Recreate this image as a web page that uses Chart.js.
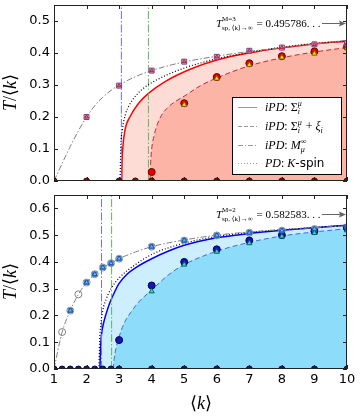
<!DOCTYPE html>
<html>
<head>
<meta charset="utf-8">
<script src="https://cdn.jsdelivr.net/npm/chart.js@4.4.0/dist/chart.umd.min.js"></script>
<style>
  body { margin: 0; background: #fff; }
  canvas { position: absolute; left: 0; }
  #top { top: 0; }
  #bot { top: 190px; }
</style>
</head>
<body>
<canvas id="top" width="361" height="190"></canvas>
<canvas id="bot" width="361" height="226"></canvas>
<script>
// ---- data, upper panel (M = 3) ----
const kMfTop = [1, 1.25, 1.5, 1.75, 2, 2.25, 2.5, 2.75, 3, 3.5, 4, 4.5, 5, 6, 7, 8, 9, 10];
const tMfTop = [0, 0.055, 0.108, 0.157, 0.2, 0.235, 0.262, 0.283, 0.3, 0.326, 0.345, 0.36, 0.372, 0.39, 0.405, 0.417, 0.428, 0.44];
const kSigTop = [3.08, 3.09, 3.11, 3.18, 3.33, 3.6, 3.9, 4.4, 5.2, 6, 7, 8, 9, 10];
const tSigTop = [0, 0.06, 0.1, 0.16, 0.2, 0.243, 0.274, 0.31, 0.35, 0.378, 0.4, 0.416, 0.428, 0.437];
const kKsTop = [3.03, 3.05, 3.1, 3.2, 3.3, 3.5, 3.75, 4, 4.5, 5, 6, 7, 8, 9, 10];
const tKsTop = [0, 0.1, 0.16, 0.21, 0.235, 0.265, 0.29, 0.307, 0.333, 0.353, 0.382, 0.402, 0.418, 0.43, 0.438];
const kXiTop = [3.95, 3.97, 4.0, 4.07, 4.15, 4.3, 4.5, 4.75, 5, 5.5, 6, 7, 8, 9, 10];
const tXiTop = [0, 0.06, 0.1, 0.14, 0.17, 0.205, 0.23, 0.25, 0.265, 0.298, 0.322, 0.36, 0.385, 0.403, 0.417];
const kMarkTop = [2, 3, 4, 5, 6, 7, 8, 9, 10];
const tMarkTop = [0.2, 0.298, 0.345, 0.373, 0.388, 0.407, 0.417, 0.427, 0.43];
const kXiMarkTop = [4, 5, 6, 7, 8, 9, 10];
const tXiCircTop = [0.028, 0.243, 0.325, 0.368, 0.39, 0.405, 0.42];
const kXiTriTop = [5, 6, 7, 8, 9, 10];
const tXiTriTop = [0.238, 0.32, 0.363, 0.386, 0.398, 0.415];
const kZeroTop = [1, 2, 3, 3.5, 4, 5, 6, 7, 8, 9, 10];
const vlinesTop = [3.07, 3.9];

// ---- data, lower panel (M = 2) ----
const kMfBot = [1, 1.25, 1.5, 1.75, 2, 2.25, 2.5, 2.75, 3, 3.5, 4, 5, 6, 7, 8, 9, 10];
const tMfBot = [0, 0.138, 0.218, 0.279, 0.323, 0.354, 0.379, 0.395, 0.412, 0.437, 0.457, 0.482, 0.5, 0.512, 0.521, 0.528, 0.535];
const kSigBot = [2.41, 2.43, 2.46, 2.52, 2.6, 2.7, 2.85, 3, 3.25, 3.5, 4, 4.5, 5, 6, 7, 8, 9, 10];
const tSigBot = [0, 0.08, 0.13, 0.17, 0.206, 0.243, 0.285, 0.32, 0.355, 0.378, 0.412, 0.44, 0.462, 0.49, 0.506, 0.518, 0.528, 0.537];
const kKsBot = [2.38, 2.4, 2.44, 2.5, 2.6, 2.75, 3, 3.5, 4, 5, 6, 7, 8, 9, 10];
const tKsBot = [0, 0.1, 0.17, 0.22, 0.26, 0.3, 0.34, 0.39, 0.428, 0.47, 0.495, 0.51, 0.52, 0.529, 0.537];
const kXiBot = [2.82, 2.85, 2.9, 3, 3.15, 3.35, 3.6, 4, 4.5, 5, 6, 7, 8, 9, 10];
const tXiBot = [0, 0.04, 0.075, 0.12, 0.17, 0.21, 0.25, 0.295, 0.35, 0.39, 0.44, 0.473, 0.497, 0.512, 0.524];
const kMarkBot = [1.5, 2, 2.25, 2.5, 2.75, 3, 4, 5, 6, 7, 8, 9, 10];
const tMarkBot = [0.218, 0.323, 0.354, 0.379, 0.395, 0.412, 0.457, 0.48, 0.499, 0.509, 0.517, 0.523, 0.53];
const kCircBot = [1.25, 1.75];
const tCircBot = [0.138, 0.279];
const kXiCircBot = [3, 4, 5, 6, 7, 8, 9, 10];
const tXiCircBot = [0.108, 0.312, 0.4, 0.447, 0.48, 0.5, 0.515, 0.527];
const kXiTriBot = [4, 5, 6, 7, 8, 9, 10];
const tXiTriBot = [0.29, 0.39, 0.438, 0.47, 0.495, 0.508, 0.518];
const kZeroBot = [1, 1.25, 1.5, 1.75, 2, 2.25, 2.5, 2.75, 3, 4, 5, 6, 7, 8, 9, 10];
const vlinesBot = [2.46, 2.77];

const xTicks = [1, 2, 3, 4, 5, 6, 7, 8, 9, 10];
const SERIF = '"Liberation Serif", "DejaVu Serif", serif';
const SANS = '"DejaVu Sans", sans-serif';

const pts = (ks, ts) => ks.map((k, i) => ({ x: k, y: ts[i] }));
const zeros = ks => ks.map(k => ({ x: k, y: 0 }));

function curve(ks, ts, color, dash, width, order, fillColor) {
    return {
        type: 'line', data: pts(ks, ts), borderColor: color, borderWidth: width,
        borderDash: dash, pointRadius: 0, cubicInterpolationMode: 'monotone',
        fill: fillColor ? 'origin' : false, backgroundColor: fillColor || 'transparent',
        order: order, clip: 0
    };
}
function marks(data, style, r, bg, border, order) {
    return {
        type: 'scatter', data: data, pointStyle: style, pointRadius: r,
        backgroundColor: bg, borderColor: border, borderWidth: 1, showLine: false,
        order: order, clip: 0
    };
}
function vline(k, ymax, color) {
    return {
        type: 'line', data: [{ x: k, y: 0 }, { x: k, y: ymax }], borderColor: color,
        borderWidth: 1, borderDash: [8, 2, 1.5, 2], pointRadius: 0, order: 4, clip: 0
    };
}

// text with sub/superscripts
function rich(ctx, x, y, parts) {
    for (const p of parts) {
        if (p.t !== undefined) {
            ctx.font = p.f;
            ctx.fillText(p.t, x, y);
            x += ctx.measureText(p.t).width;
        } else {
            ctx.font = p.f;
            let w = 0;
            if (p.sup) { ctx.fillText(p.sup, x, y - p.up); w = ctx.measureText(p.sup).width; }
            if (p.sub) { ctx.fillText(p.sub, x, y + p.down); w = Math.max(w, ctx.measureText(p.sub).width); }
            x += w + 1;
        }
    }
}

const decor = {
    id: 'decor',
    afterDraw(chart, args, o) {
        const { ctx, chartArea: a, scales: { x, y } } = chart;
        ctx.save();
        ctx.strokeStyle = '#222';
        ctx.lineWidth = 1;
        ctx.strokeRect(a.left + 0.5, a.top + 0.5, a.right - a.left - 1, a.bottom - a.top - 1);
        ctx.beginPath();
        xTicks.forEach(k => {
            const px = Math.round(x.getPixelForValue(k)) + 0.5;
            ctx.moveTo(px, a.bottom); ctx.lineTo(px, a.bottom - 4);
            ctx.moveTo(px, a.top); ctx.lineTo(px, a.top + 4);
        });
        for (let i = 0; i <= o.nY; i++) {
            const py = Math.round(y.getPixelForValue(i / 10)) + 0.5;
            ctx.moveTo(a.left, py); ctx.lineTo(a.left + 4, py);
            ctx.moveTo(a.right, py); ctx.lineTo(a.right - 4, py);
        }
        ctx.stroke();

        // y title
        ctx.fillStyle = '#000';
        ctx.save();
        ctx.translate(16, (a.top + a.bottom) / 2 + 18);
        ctx.rotate(-Math.PI / 2);
        rich(ctx, 0, 0, [{ t: 'T', f: 'italic 18px ' + SERIF }, { t: '/', f: '18px ' + SERIF },
            { t: '⟨', f: '18px "DejaVu Sans"' }, { t: 'k', f: 'italic 18px ' + SERIF }, { t: '⟩', f: '18px "DejaVu Sans"' }]);
        ctx.restore();

        // asymptote note and arrow
        rich(ctx, 216, a.top + o.ay + 4, [
            { t: 'T', f: 'italic 11px ' + SERIF },
            { sup: 'M=' + o.m, sub: 'sp, ⟨k⟩→∞', f: '7px ' + SERIF, up: 6, down: 3 },
            { t: ' = ' + o.val + '. . .', f: '11px ' + SERIF }
        ]);
        const ay = a.top + o.ay + 0.5;
        ctx.strokeStyle = '#666';
        ctx.fillStyle = '#666';
        ctx.beginPath(); ctx.moveTo(322, ay); ctx.lineTo(341, ay); ctx.stroke();
        ctx.beginPath(); ctx.moveTo(346, ay); ctx.lineTo(339, ay - 3); ctx.lineTo(340, ay); ctx.lineTo(339, ay + 3); ctx.closePath(); ctx.fill();

        if (o.legend) drawLegend(ctx);
        if (o.xTitle) {
            ctx.fillStyle = '#000';
            rich(ctx, 190, a.bottom + 40, [{ t: '⟨', f: '18px "DejaVu Sans"' }, { t: 'k', f: 'italic 18px ' + SERIF }, { t: '⟩', f: '18px "DejaVu Sans"' }]);
        }
        ctx.restore();
    }
};

function drawLegend(ctx) {
    ctx.fillStyle = '#fff';
    ctx.fillRect(232, 97, 110, 78);
    ctx.strokeStyle = '#000';
    ctx.lineWidth = 1;
    ctx.strokeRect(232.5, 97.5, 109, 77);
    const it = 'italic 12px ' + SERIF, rm = '12px ' + SERIF, sm = 'italic 8px ' + SERIF;
    const rows = [
        { dash: [], y: 111, parts: [{ t: 'iPD', f: it }, { t: ': ', f: rm }, { t: 'Σ', f: rm }, { sup: 'μ', sub: 'i', f: sm, up: 5, down: 3 }] },
        { dash: [4, 2], y: 130, parts: [{ t: 'iPD', f: it }, { t: ': ', f: rm }, { t: 'Σ', f: rm }, { sup: 'μ', sub: 'i', f: sm, up: 5, down: 3 }, { t: ' + ', f: rm }, { t: 'ξ', f: it }, { sub: 'i', f: sm, down: 3 }] },
        { dash: [5, 2, 1, 2], y: 149, parts: [{ t: 'iPD', f: it }, { t: ': ', f: rm }, { t: 'M', f: it }, { sup: '∞', sub: 'μ', f: sm, up: 5, down: 3 }] },
        { dash: [1, 2], y: 167, parts: [{ t: 'PD', f: it }, { t: ': ', f: rm }, { t: 'K', f: it }, { t: '-spin', f: '12px ' + SANS }] }
    ];
    rows.forEach(r => {
        ctx.strokeStyle = '#999';
        ctx.setLineDash(r.dash);
        ctx.beginPath(); ctx.moveTo(238, r.y - 3.5); ctx.lineTo(257, r.y - 3.5); ctx.stroke();
        ctx.setLineDash([]);
        ctx.fillStyle = '#000';
        rich(ctx, 265, r.y, r.parts);
    });
}

function makeChart(id, ymax, datasets, deco, padTop, xHeight) {
    const showX = xHeight > 20;
    return new Chart(document.getElementById(id), {
        data: { datasets: datasets },
        plugins: [decor],
        options: {
            responsive: false,
            animation: false,
            devicePixelRatio: 1,
            layout: { padding: { left: 0, right: 14, top: padTop, bottom: 0 } },
            plugins: { legend: { display: false }, tooltip: { enabled: false }, decor: deco },
            scales: {
                x: {
                    type: 'linear', min: 1, max: 10,
                    grid: { display: false, drawTicks: false }, border: { display: false },
                    ticks: { display: showX, stepSize: 1, padding: 3, color: '#000', font: { family: 'DejaVu Sans', size: 13 } },
                    afterFit: s => { s.height = xHeight; s.paddingLeft = 0; s.paddingRight = 0; }
                },
                y: {
                    type: 'linear', min: 0, max: ymax,
                    grid: { display: false, drawTicks: false }, border: { display: false },
                    ticks: {
                        stepSize: 0.1, includeBounds: false, padding: 4, color: '#000',
                        font: { family: 'DejaVu Sans', size: 13 },
                        callback: v => v.toFixed(1)
                    },
                    afterFit: s => { s.width = 54; s.paddingTop = 0; s.paddingBottom = 0; }
                }
            }
        }
    });
}

document.addEventListener('DOMContentLoaded', () => {
    // upper panel
    makeChart('top', 0.55, [
        marks(pts(kMarkTop, tMarkTop), 'rect', 3.5, '#f4b0cc', '#7a3a9a', 1),
        marks(pts(kMarkTop, tMarkTop), 'triangle', 2.2, '#e07050', '#a03030', 0),
        marks(pts(kXiMarkTop, tXiCircTop), 'circle', 3.5, '#e80000', '#700000', 1),
        marks(pts(kXiTriTop, tXiTriTop), 'triangle', 3, '#ffe800', '#806000', 0),
        marks(zeros(kZeroTop), 'circle', 3, '#b00000', '#400000', 2),
        vline(vlinesTop[0], 0.55, '#6f6fff'),
        vline(vlinesTop[1], 0.55, '#5cb85c'),
        curve(kMfTop, tMfTop, '#808080', [6, 2, 1.5, 2], 1, 3),
        curve(kKsTop, tKsTop, '#000', [1, 2], 1.2, 3),
        curve(kXiTop, tXiTop, '#c82828', [5, 3], 1, 6, '#fbb4a6'),
        curve(kSigTop, tSigTop, '#ff0000', [], 1.5, 7, '#fddcd6')
    ], { nY: 5, m: 3, val: '0.495786', ay: 18, legend: true }, 5, 9);

    // lower panel
    makeChart('bot', 0.65, [
        marks(pts(kCircBot, tCircBot), 'circle', 3.5, 'rgba(255,255,255,0)', '#808080', 1),
        marks(pts(kMarkBot, tMarkBot), 'circle', 3.5, 'rgba(255,255,255,0)', '#909090', 2),
        marks(pts(kMarkBot, tMarkBot), 'rect', 3, '#a8dcff', '#3a70e0', 1),
        marks(pts(kMarkBot, tMarkBot), 'triangle', 2.8, '#40c8e8', '#2050a0', 0),
        marks(pts(kXiCircBot, tXiCircBot), 'circle', 3.5, '#1414b8', '#000060', 1),
        marks(pts(kXiTriBot, tXiTriBot), 'triangle', 3, '#30e0c0', '#106060', 0),
        marks(zeros(kZeroBot), 'circle', 3, '#0c1c88', '#000040', 2),
        vline(vlinesBot[0], 0.65, '#6f6fff'),
        vline(vlinesBot[1], 0.65, '#5cb85c'),
        curve(kMfBot, tMfBot, '#808080', [6, 2, 1.5, 2], 1, 3),
        curve(kKsBot, tKsBot, '#000', [1, 2], 1.2, 3),
        curve(kXiBot, tXiBot, '#3a6fd8', [5, 3], 1, 6, '#8ddcfa'),
        curve(kSigBot, tSigBot, '#0000ff', [], 1.5, 7, '#cdeffd')
    ], { nY: 6, m: 2, val: '0.582583', ay: 19, legend: false, xTitle: true }, 3, 47);
});
</script>
</body>
</html>
